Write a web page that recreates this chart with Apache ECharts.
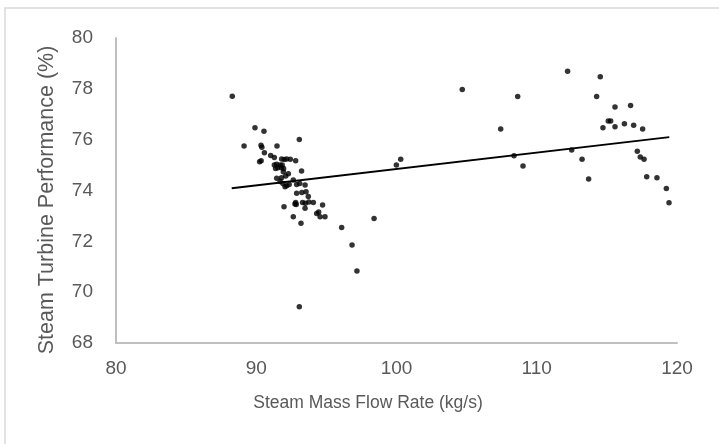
<!DOCTYPE html>
<html>
<head>
<meta charset="utf-8">
<script src="https://cdn.jsdelivr.net/npm/echarts@6/dist/echarts.min.js"></script>
<style>html,body{margin:0;padding:0;background:#fff}#c{width:719px;height:444px}</style>
</head>
<body>
<div id="c"></div>
<script>
const xAxisTitle = 'Steam Mass Flow Rate (kg/s)';
const yAxisTitle = 'Steam Turbine Performance (%)';
const xTicks = [80, 90, 100, 110, 120];
const yTicks = [68, 70, 72, 74, 76, 78, 80];
const flowRate = [
  88.29, 89.91, 90.55, 93.07, 89.13, 90.34, 90.40, 91.48, 90.58, 91.03,
  91.29, 90.24, 90.35, 91.81, 92.00, 92.17, 92.43, 92.81, 91.29, 91.45,
  91.70, 91.85, 91.38, 91.55, 91.80, 91.95, 93.23, 91.93, 92.29, 91.46,
  91.80, 92.10, 92.64, 91.70, 91.90, 92.17, 92.35, 92.88, 93.10, 93.48,
  92.05, 92.88, 93.25, 93.71, 92.81, 92.85, 93.30, 93.50, 94.07, 93.48,
  94.73, 91.98, 94.31, 94.45, 94.90, 94.55, 92.64, 93.19, 96.09, 98.40,
  96.83, 97.18, 93.07, 100.30, 99.99, 93.55, 93.75, 92.76,
  104.69, 108.64, 107.43, 108.38, 109.02, 112.20, 114.53, 114.27, 115.58, 116.69,
  115.10, 115.27, 114.72, 115.58, 116.25, 116.91, 117.55, 112.49, 113.23, 113.70,
  117.17, 117.38, 117.65, 117.84, 118.57, 119.24, 119.43
];
const performance = [
  77.71, 76.47, 76.33, 76.01, 75.75, 75.78, 75.70, 75.75, 75.49, 75.38,
  75.30, 75.13, 75.17, 75.24, 75.22, 75.24, 75.23, 75.17, 75.00, 75.03,
  75.00, 75.00, 74.87, 74.90, 74.90, 74.87, 74.77, 74.74, 74.66, 74.48,
  74.50, 74.57, 74.41, 74.35, 74.28, 74.19, 74.24, 74.24, 74.28, 74.22,
  74.15, 73.89, 73.92, 73.76, 73.53, 73.45, 73.53, 73.50, 73.53, 73.30,
  73.43, 73.36, 73.10, 73.15, 72.97, 72.97, 72.97, 72.71, 72.54, 72.90,
  71.86, 70.83, 69.43, 75.23, 75.00, 73.95, 73.55, 73.47,
  77.97, 77.70, 76.42, 75.37, 74.96, 78.69, 78.48, 77.70, 77.29, 77.34,
  76.73, 76.73, 76.47, 76.51, 76.63, 76.57, 76.42, 75.59, 75.23, 74.45,
  75.54, 75.32, 75.23, 74.54, 74.50, 74.08, 73.52
];
const trendX = [88.25, 119.45];
const trendY = [74.09, 76.10];

const points = flowRate.map((x, i) => [x, performance[i]]);
const trend = trendX.map((x, i) => [x, trendY[i]]);

const regular = '"Liberation Sans", Arial, sans-serif';
const grey = '#595959';

const chart = echarts.init(document.getElementById('c'), null, {renderer: 'canvas'});
chart.setOption({
  animation: false,
  backgroundColor: '#fff',
  graphic: [
    {type: 'rect', shape: {x: 5, y: 8, width: 730, height: 460},
     style: {fill: 'none', stroke: '#d9d9d9', lineWidth: 1.5}, silent: true, z: -1},
    {type: 'text', x: 368, y: 403, silent: true,
     style: {text: xAxisTitle, fill: grey, font: '17.5px ' + regular, align: 'center', verticalAlign: 'middle'}},
    {type: 'text', x: 47, y: 200, rotation: Math.PI / 2, silent: true,
     style: {text: yAxisTitle, fill: grey, font: '21.5px ' + regular, align: 'center', verticalAlign: 'middle'}}
  ],
  grid: {left: 116, top: 38, right: 42, bottom: 101, containLabel: false},
  xAxis: {
    type: 'value', min: xTicks[0], max: xTicks[xTicks.length - 1], interval: 10,
    axisLine: {show: true, lineStyle: {color: '#bfbfbf', width: 2}},
    axisTick: {show: false}, splitLine: {show: false},
    axisLabel: {color: grey, fontFamily: regular, fontSize: 19, margin: 16}
  },
  yAxis: {
    type: 'value', min: yTicks[0], max: yTicks[yTicks.length - 1], interval: 2,
    axisLine: {show: true, lineStyle: {color: '#bfbfbf', width: 2}},
    axisTick: {show: false}, splitLine: {show: false},
    axisLabel: {color: grey, fontFamily: regular, fontSize: 19, margin: 23}
  },
  series: [
    {type: 'scatter', data: points, symbolSize: 5.5, itemStyle: {color: '#000'}, z: 3},
    {type: 'line', data: trend, showSymbol: false, symbol: 'none',
     lineStyle: {color: '#000', width: 2}, z: 2}
  ]
});
</script>
</body>
</html>
